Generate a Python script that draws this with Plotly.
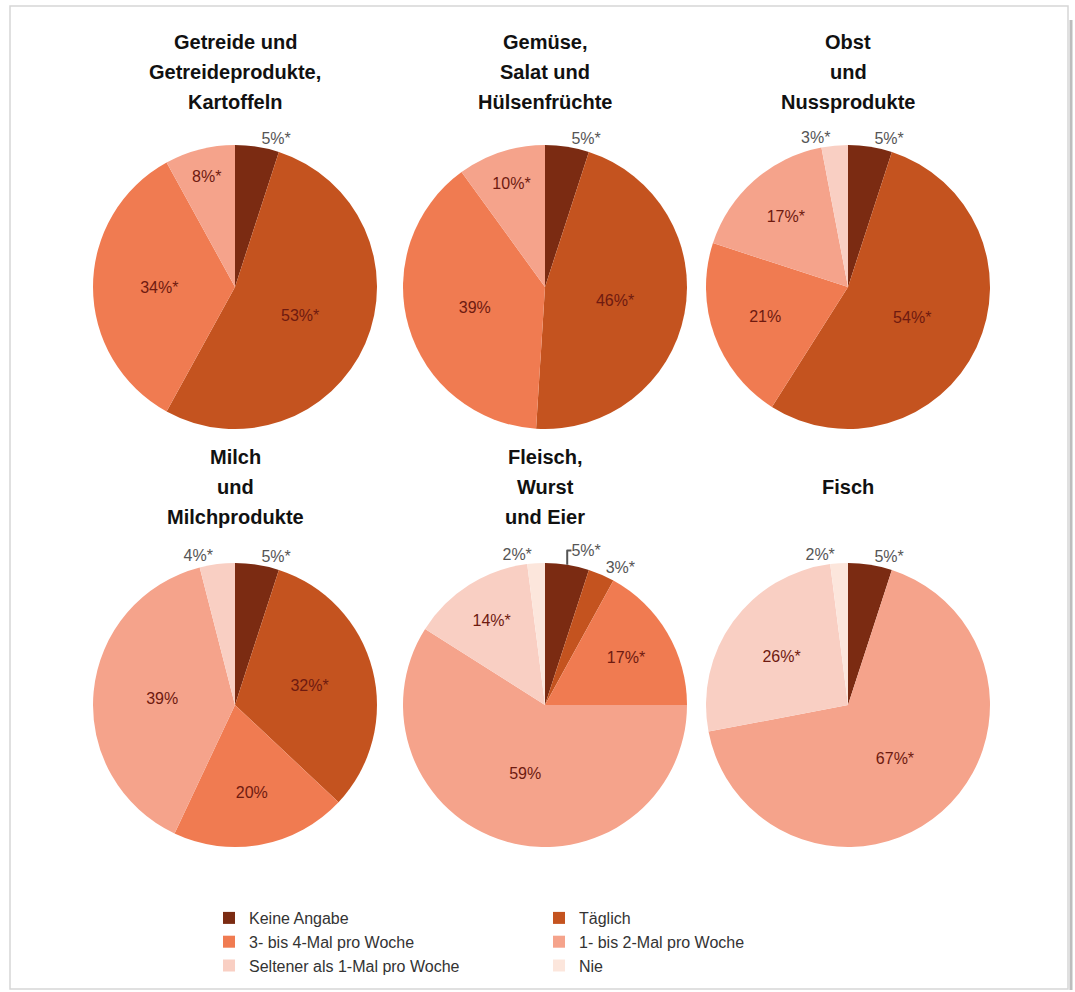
import plotly.graph_objects as go

# ---------------- data ----------------
categories = ["Keine Angabe", "Täglich", "3- bis 4-Mal pro Woche",
              "1- bis 2-Mal pro Woche", "Seltener als 1-Mal pro Woche", "Nie"]
cat_colors = ["#7B2B12", "#C4531F", "#F07B51", "#F5A38B", "#F9CFC3", "#FCE6DC"]

titles = [
    ["Getreide und", "Getreideprodukte,", "Kartoffeln"],
    ["Gemüse,", "Salat und", "Hülsenfrüchte"],
    ["Obst", "und", "Nussprodukte"],
    ["Milch", "und", "Milchprodukte"],
    ["Fleisch,", "Wurst", "und Eier"],
    ["Fisch"],
]

getreide = [5, 53, 34, 8, 0, 0]
gemuese = [5, 46, 39, 10, 0, 0]
obst = [5, 54, 21, 17, 3, 0]
milch = [5, 32, 20, 39, 4, 0]
fleisch = [5, 3, 17, 59, 14, 2]
fisch = [5, 0, 0, 67, 26, 2]

# significance marker (*) per slice
getreide_sig = [1, 1, 1, 1, 0, 0]
gemuese_sig = [1, 1, 0, 1, 0, 0]
obst_sig = [1, 1, 0, 1, 1, 0]
milch_sig = [1, 1, 0, 0, 1, 0]
fleisch_sig = [1, 1, 1, 0, 1, 1]
fisch_sig = [1, 0, 0, 1, 1, 1]

series = [getreide, gemuese, obst, milch, fleisch, fisch]
sigs = [getreide_sig, gemuese_sig, obst_sig, milch_sig, fleisch_sig, fisch_sig]

# ---------------- layout helpers ----------------
W, H = 1075, 992
ML, MR = 60, 60
PW = W - ML - MR


def fx(px):
    return (px - ML) / PW


def fy(py):
    return 1 - py / H


col_cx = [235, 545, 848]
row_cy = [287, 705]
title_mid = [72, 487]
R = 142

FONT = "Liberation Sans, Arial, sans-serif"

fig = go.Figure()
annotations = []

for i, (vals, sig, ttl) in enumerate(zip(series, sigs, titles)):
    cx = col_cx[i % 3]
    cy = row_cy[i // 3]
    texts = []
    positions = []
    for v, s in zip(vals, sig):
        if v == 0:
            texts.append("")
            positions.append("inside")
        else:
            texts.append(f"{v}%" + ("*" if s else ""))
            positions.append("outside" if v <= 5 else "inside")
    fig.add_trace(go.Pie(
        labels=categories,
        values=vals,
        text=texts,
        texttemplate="%{text}",
        textposition=positions,
        insidetextorientation="horizontal",
        insidetextfont=dict(family=FONT, size=16, color="#6E1A10"),
        outsidetextfont=dict(family=FONT, size=16, color="#555555"),
        marker=dict(colors=cat_colors, line=dict(width=0)),
        sort=False,
        direction="clockwise",
        rotation=0,
        hoverinfo="label+percent",
        domain=dict(x=[fx(cx - R), fx(cx + R)], y=[fy(cy + R), fy(cy - R)]),
        showlegend=True,
    ))
    n = len(ttl)
    mid = title_mid[i // 3]
    for k, line in enumerate(ttl):
        yc = mid + (k - (n - 1) / 2) * 30
        annotations.append(dict(
            text=f"<b>{line}</b>", x=fx(cx), y=fy(yc), xref="paper", yref="paper",
            xanchor="center", yanchor="middle", showarrow=False,
            font=dict(family=FONT, size=20, color="#111111"),
        ))

shapes = [
    dict(type="rect", xref="paper", yref="paper",
         x0=fx(10), x1=fx(1068), y0=fy(989), y1=fy(6),
         line=dict(color="#D6D6D6", width=1.5), layer="below"),
    dict(type="line", xref="paper", yref="paper",
         x0=fx(1071), x1=fx(1071), y0=fy(990), y1=fy(20),
         line=dict(color="#BDBDBD", width=3), layer="below"),
]

fig.update_layout(
    width=W, height=H,
    margin=dict(l=ML, r=MR, t=0, b=0),
    paper_bgcolor="white",
    plot_bgcolor="white",
    annotations=annotations,
    shapes=shapes,
    legend=dict(
        orientation="h",
        x=fx(209), xanchor="left",
        y=fy(942), yanchor="middle",
        entrywidth=285,
        font=dict(family=FONT, size=16, color="#333333"),
        traceorder="normal",
        itemclick=False,
    ),
)

fig.write_html("out.html")
